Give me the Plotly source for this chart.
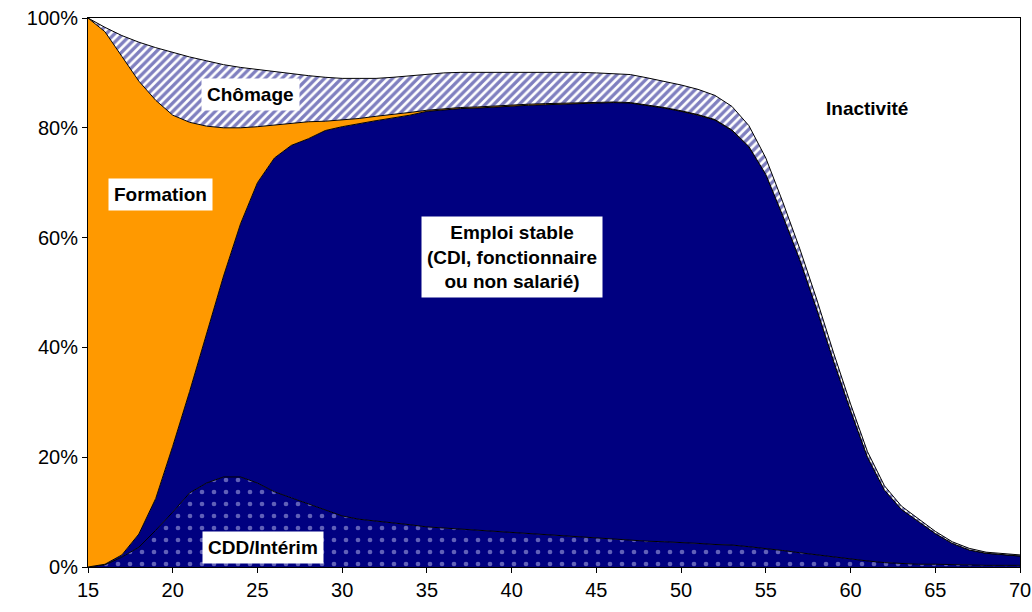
import plotly.graph_objects as go

# Share of each situation by age (percent)
ages = list(range(15, 71))

cdd_interim = [
    0.0, 0.4, 1.8, 3.6, 6.7, 10.0, 13.5, 15.3, 16.4, 16.4,
    15.3, 13.7, 12.6, 11.5, 10.4, 9.3, 8.7, 8.4, 8.0, 7.7,
    7.3, 7.1, 6.9, 6.7, 6.4, 6.2, 6.0, 5.8, 5.6, 5.5,
    5.3, 5.0, 4.8, 4.7, 4.6, 4.5, 4.3, 4.1, 4.0, 3.7,
    3.4, 3.0, 2.6, 2.2, 1.9, 1.5, 1.1, 0.8, 0.6, 0.5,
    0.5, 0.4, 0.4, 0.3, 0.3, 0.3,
]

emploi_stable = [
    0.0, 0.1, 0.4, 2.4, 5.8, 12.0, 18.5, 27.2, 36.6, 46.1,
    54.7, 60.8, 64.2, 66.5, 69.1, 70.9, 72.1, 72.9, 73.8, 74.6,
    75.7, 76.2, 76.6, 76.9, 77.4, 77.8, 78.1, 78.4, 78.7, 78.9,
    79.2, 79.6, 79.7, 79.4, 79.0, 78.5, 78.0, 77.3, 75.5, 72.8,
    68.1, 61.0, 53.4, 44.8, 35.6, 27.0, 18.9, 13.2, 9.9, 7.8,
    5.6, 3.9, 2.7, 2.2, 1.9, 1.7,
]

formation = [
    100.0, 97.0, 90.8, 82.5, 72.5, 60.3, 49.0, 37.8, 27.0, 17.5,
    10.2, 6.0, 4.1, 3.1, 1.7, 1.2, 0.9, 0.8, 0.6, 0.5,
    0.2, 0.2, 0.2, 0.2, 0.2, 0.2, 0.2, 0.2, 0.2, 0.2,
    0.2, 0.1, 0.1, 0.1, 0.1, 0.1, 0.1, 0.1, 0.1, 0.1,
    0.0, 0.0, 0.0, 0.0, 0.0, 0.0, 0.0, 0.0, 0.0, 0.0,
    0.0, 0.0, 0.0, 0.0, 0.0, 0.0,
]

chomage = [
    0.0, 0.8, 3.8, 7.1, 9.6, 11.4, 11.9, 11.9, 11.5, 11.0,
    10.4, 9.7, 8.9, 8.4, 8.0, 7.6, 7.3, 6.9, 6.8, 6.7,
    6.6, 6.5, 6.4, 6.3, 6.2, 6.0, 5.9, 5.8, 5.6, 5.5,
    5.3, 5.2, 5.1, 4.9, 4.8, 4.7, 4.6, 4.4, 4.3, 3.8,
    3.0, 2.5, 2.0, 1.8, 1.5, 1.2, 1.0, 0.8, 0.6, 0.5,
    0.4, 0.3, 0.3, 0.2, 0.2, 0.2,
]

NAVY = "#000080"
ORANGE = "#FF9900"
FONT = "Liberation Sans, Arial, sans-serif"

fig = go.Figure()

# CDD / interim: navy with light dots
fig.add_trace(go.Scatter(
    x=ages, y=cdd_interim, name="CDD/Intérim",
    stackgroup="s", mode="lines",
    line=dict(color="black", width=1),
    fillcolor=NAVY,
    fillpattern=dict(shape=".", bgcolor=NAVY, fgcolor="#c0c0f0",
                     size=12, solidity=0.12),
))

fig.add_trace(go.Scatter(
    x=ages, y=emploi_stable, name="Emploi stable",
    stackgroup="s", mode="lines",
    line=dict(color="black", width=1),
    fillcolor=NAVY,
))

fig.add_trace(go.Scatter(
    x=ages, y=formation, name="Formation",
    stackgroup="s", mode="lines",
    line=dict(color="black", width=1),
    fillcolor=ORANGE,
))

# Chomage: diagonal navy / white stripes
fig.add_trace(go.Scatter(
    x=ages, y=chomage, name="Chômage",
    stackgroup="s", mode="lines",
    line=dict(color="black", width=1),
    fillcolor="white",
    fillpattern=dict(shape="/", bgcolor="white", fgcolor=NAVY,
                     size=6, solidity=0.55),
))

label_font = dict(family=FONT, size=19, color="black", weight="bold")
labels = [
    (24.6, 86.0, "Chômage", "white"),
    (19.3, 67.8, "Formation", "white"),
    (40.0, 56.5, "Emploi stable<br>(CDI, fonctionnaire<br>ou non salarié)", "white"),
    (25.3, 3.6, "CDD/Intérim", "white"),
    (61.0, 83.6, "Inactivité", None),
]
for x, y, text, bg in labels:
    fig.add_annotation(
        x=x, y=y, text=text, showarrow=False,
        font=label_font, bgcolor=bg, borderpad=5,
    )

axis_style = dict(
    showline=True, linecolor="black", linewidth=1, mirror=True,
    ticks="outside", ticklen=5, tickcolor="black",
    showgrid=False, zeroline=False, automargin=False,
    tickfont=dict(family=FONT, size=20, color="black"),
)

fig.update_layout(
    width=1032, height=612,
    margin=dict(l=88, r=12, t=18, b=45),
    plot_bgcolor="white", paper_bgcolor="white",
    showlegend=False,
    xaxis=dict(range=[15, 70], tickvals=list(range(15, 71, 5)), **axis_style),
    yaxis=dict(range=[0, 100], dtick=20, ticksuffix="%", **axis_style),
)

fig.write_html(
    "out.html",
    config={"displayModeBar": False},
    post_script="document.body.style.margin='0';",
)
